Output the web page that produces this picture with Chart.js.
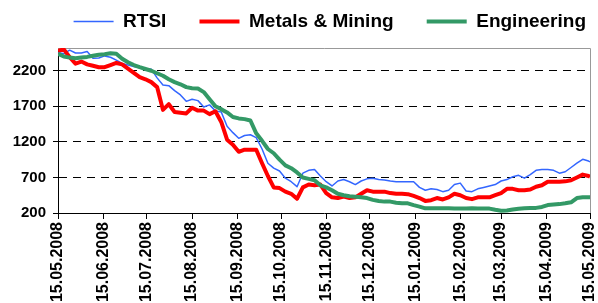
<!DOCTYPE html>
<html><head><meta charset="utf-8">
<script src="https://cdn.jsdelivr.net/npm/chart.js@4/dist/chart.umd.min.js"></script>
<style>html,body{margin:0;padding:0;background:#fff;}#wrap{width:598px;height:303px;position:relative;}</style>
</head><body><div id="wrap"><canvas id="c"></canvas></div>
<script>
// days since 15.05.2008
const days = [0,4,8,12,16,20,24,28,32,36,40,44,48,52,56,60,64,68,72,76,80,84,88,92,96,100,104,108,112,116,120,124,128,132,136,140,144,148,152,156,160,164,168,172,176,180,184,188,192,196,200,204,208,212,216,220,224,228,232,236,240,244,248,252,256,260,264,268,272,276,280,284,288,292,296,300,304,308,312,316,320,324,328,332,336,340,344,348,352,356,360,364,365];
const rtsi = [2456,2440,2490,2450,2450,2470,2376,2380,2409,2390,2350,2302,2280,2260,2245,2230,2222,2100,2000,1990,1920,1860,1770,1800,1780,1690,1720,1636,1620,1420,1330,1250,1290,1300,1260,1100,900,830,790,690,640,570,760,800,810,720,640,580,650,670,640,600,650,680,690,670,665,650,640,640,640,640,560,520,540,530,500,520,600,620,510,500,540,560,580,600,650,670,710,730,690,740,800,810,810,800,760,780,840,900,955,930,920];
const metals = [2480,2500,2390,2300,2330,2290,2270,2250,2250,2280,2310,2290,2230,2170,2110,2080,2040,1970,1650,1730,1620,1610,1600,1680,1640,1640,1590,1630,1480,1230,1160,1060,1090,1090,1090,900,720,560,550,500,470,400,560,600,590,600,480,420,410,430,410,420,470,520,500,500,500,480,470,470,465,440,410,370,380,410,390,420,470,450,410,395,420,420,420,450,480,540,540,520,520,530,570,590,640,640,640,645,660,700,740,720,710];
const engineering = [2440,2400,2385,2376,2385,2395,2410,2425,2432,2446,2440,2370,2320,2280,2250,2225,2200,2165,2130,2080,2040,2010,1970,1955,1950,1900,1800,1700,1660,1614,1550,1530,1520,1500,1320,1215,1100,1040,950,870,830,770,700,680,660,590,560,520,470,450,435,430,420,410,385,370,360,360,345,336,336,310,290,266,266,266,266,266,262,262,264,266,264,262,262,245,232,235,250,260,266,270,272,285,312,318,325,336,350,410,420,420,420];
const seriesNames = ['RTSI', 'Metals & Mining', 'Engineering'];
const tickLabels = ['15.05.2008','15.06.2008','15.07.2008','15.08.2008','15.09.2008','15.10.2008','15.11.2008','15.12.2008','15.01.2009','15.02.2009','15.03.2009','15.04.2009','15.05.2009'];
const yTicks = [200, 700, 1200, 1700, 2200];

function dayOf(label) {
  const p = label.split('.').map(Number);
  return Math.round((Date.UTC(p[2], p[1] - 1, p[0]) - Date.UTC(2008, 4, 15)) / 86400000);
}
const tickDays = tickLabels.map(dayOf);
const toXY = arr => arr.map((v, i) => ({x: days[i], y: v}));
const FONT = "'Liberation Sans', Arial, sans-serif";

const legendHeight = {
  id: 'legendHeight',
  beforeInit(chart) {
    const lg = chart.legend;
    if (!lg) return;
    const f = lg.fit;
    lg.fit = function () { f.call(this); this.height = 48; };
  }
};
const frame = {
  id: 'frame',
  beforeDatasetsDraw(chart) {
    const {ctx, chartArea: a} = chart;
    ctx.save();
    ctx.strokeStyle = '#999';
    ctx.lineWidth = 1;
    ctx.beginPath();
    ctx.moveTo(a.left, Math.round(a.top) + 0.5);
    ctx.lineTo(Math.round(a.right) + 0.5, Math.round(a.top) + 0.5);
    ctx.lineTo(Math.round(a.right) + 0.5, a.bottom);
    ctx.stroke();
    ctx.restore();
  }
};

new Chart(document.getElementById('c'), {
  type: 'line',
  data: {
    datasets: [
      {label: seriesNames[0], data: toXY(rtsi), borderColor: '#3366FF', backgroundColor: '#3366FF', borderWidth: 1.5, pointRadius: 0, order: 3},
      {label: seriesNames[1], data: toXY(metals), borderColor: '#FF0000', backgroundColor: '#FF0000', borderWidth: 4, pointRadius: 0, order: 2},
      {label: seriesNames[2], data: toXY(engineering), borderColor: '#339966', backgroundColor: '#339966', borderWidth: 4, pointRadius: 0, order: 1}
    ]
  },
  options: {
    responsive: true,
    maintainAspectRatio: false,
    animation: false,
    devicePixelRatio: 1,
    layout: {padding: {top: 0, left: 0, right: 0, bottom: 0}},
    elements: {line: {tension: 0, borderJoinStyle: 'round'}},
    plugins: {
      tooltip: {enabled: false},
      legend: {
        position: 'top',
        align: 'end',
        labels: {
          usePointStyle: true,
          pointStyle: 'line',
          pointStyleWidth: 40,
          padding: 12,
          color: '#000',
          font: {family: FONT, size: 19, weight: 'bold'},
          sort: (a, b) => a.datasetIndex - b.datasetIndex,
          generateLabels(chart) {
            const items = Chart.defaults.plugins.legend.labels.generateLabels(chart);
            items.forEach(it => { if (it.datasetIndex < 2) it.text = it.text + '    '; });
            return items;
          }
        }
      }
    },
    scales: {
      x: {
        type: 'linear', min: 0, max: 365,
        afterBuildTicks: s => { s.ticks = tickDays.map(v => ({value: v})); },
        afterFit: s => { s.height = 90; s.paddingLeft = 0; s.paddingRight = 8; },
        ticks: {
          autoSkip: false, minRotation: 90, maxRotation: 90, padding: 3, color: '#000',
          font: {family: FONT, size: 16, weight: 'bold'},
          callback: v => { const i = tickDays.indexOf(v); return i >= 0 ? tickLabels[i] : ''; }
        },
        grid: {drawOnChartArea: false, drawTicks: true, tickLength: 6, color: '#000', tickBorderDash: []},
        border: {display: true, color: '#000', width: 1}
      },
      y: {
        min: 200, max: 2520,
        afterBuildTicks: s => { s.ticks = yTicks.map(v => ({value: v})); },
        afterFit: s => { s.width = 58; },
        ticks: {color: '#000', padding: 7, font: {family: FONT, size: 15, weight: 'bold'}, callback: v => String(v)},
        grid: {color: '#000', lineWidth: 1, tickLength: 5, drawTicks: true, borderDash: [8, 6], tickBorderDash: []},
        border: {display: true, color: '#000', width: 1, dash: [8, 6]}
      }
    }
  },
  plugins: [legendHeight, frame]
});
</script>
</body></html>
